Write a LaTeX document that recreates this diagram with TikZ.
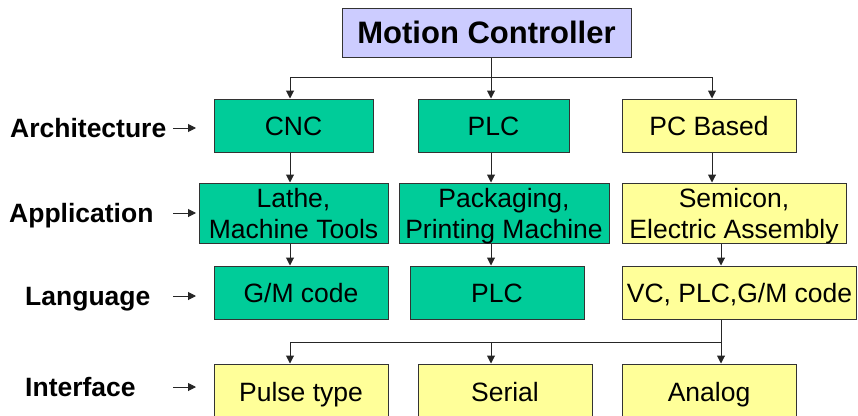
\documentclass[tikz,border=0pt]{standalone}
\usepackage{fontspec}
\setmainfont{Liberation Sans}
\usetikzlibrary{positioning, arrows.meta}
\definecolor{boxgreen}{RGB}{0,204,153}
\definecolor{boxyellow}{RGB}{255,255,153}
\definecolor{boxblue}{RGB}{204,204,255}
\tikzset{
>={Triangle[length=8pt, width=8pt]}, % plain filled arrow heads
every node/.style={font=\fontsize{26.5}{31}\selectfont, inner sep=0pt}, % Arial-like text everywhere
block/.style={draw=black!80, line width=1pt, align=center, minimum width=174pt, minimum height=53pt,
              text height=19pt, text depth=0pt}, % one box of the chart
two lines/.style={minimum height=60pt, text height=50pt}, % boxes with two lines of text
green block/.style={block, fill=boxgreen},
yellow block/.style={block, fill=boxyellow},
level/.style={font=\fontsize{26.5}{31}\selectfont\bfseries, anchor=west, text height=19pt, text depth=0pt}, % row names on the left
link/.style={->, line width=1pt, black!85}, % connectors
}

\begin{document}
\begin{tikzpicture}[x=1pt, y=-1pt]
    \useasboundingbox (0,0) rectangle (858,415);
    % top
    \node[block, fill=boxblue, minimum width=289pt, minimum height=49pt, text height=22pt,
          font=\fontsize{31}{36}\selectfont\bfseries] (mc) at (486.5,32.5) {Motion Controller};
    % architecture
    \node[green block, minimum width=159pt] (cnc) at (293.5,125.5) {CNC};
    \node[green block, minimum width=151pt] (plc) at (493.5,125.5) {PLC};
    \node[yellow block] (pc) at (709,125.5) {PC Based};
    % application
    \node[green block, two lines, minimum width=189pt] (lathe) at (293.5,213) {Lathe,\\Machine Tools};
    \node[green block, two lines, minimum width=210pt] (pack) at (504,213) {Packaging,\\Printing Machine};
    \node[yellow block, two lines, minimum width=224pt] (semi) at (734,213) {Semicon,\\Electric Assembly};
    % language
    \node[green block] (gm) at (301,292.5) {G/M code};
    \node[green block] (plcode) at (497,292.5) {PLC};
    \node[yellow block, minimum width=234pt] (vc) at (739.5,292.5) {VC, PLC,G/M code};
    % interface
    \node[yellow block, minimum height=56pt] (pulse) at (301,392) {Pulse type};
    \node[yellow block, minimum height=56pt] (serial) at (505,392) {Serial};
    \node[yellow block, minimum height=56pt] (analog) at (709,392) {Analog};
    % row names
    \node[level] (arch) at (10,128) {Architecture};
    \node[level] (appl) at (9,213) {Application};
    \node[level] (lang) at (25,296) {Language};
    \node[level] (intf) at (25,387) {Interface};
    % helper coordinates
    \coordinate (tailx) at (173,0);
    \coordinate (tipx) at (196,0);
    \coordinate (ca) at (290,0);
    \coordinate (cb) at (491,0);
    \coordinate (cc) at (712,0);
    \coordinate (cd) at (721,0);
    \coordinate (bus1) at (0,77);
    \coordinate (bus2) at (0,342);
    % row arrows
    \foreach \r in {arch, appl, lang, intf}
        \draw[link] (\r.east -| tailx) -- (\r.east -| tipx);
    % motion controller to architectures
    \draw[line width=1pt, black!85] (mc.south -| cb) -- (bus1 -| cb);
    \draw[line width=1pt, black!85] (bus1 -| ca) -- (bus1 -| cc);
    \foreach \n/\c in {cnc/ca, plc/cb, pc/cc}
        \draw[link] (bus1 -| \c) -- (\n.north -| \c);
    % down the columns
    \draw[link] (cnc.south -| ca) -- (lathe.north -| ca);
    \draw[link] (plc.south -| cb) -- (pack.north -| cb);
    \draw[link] (pc.south -| cc) -- (semi.north -| cc);
    \draw[link] (lathe.south -| ca) -- (gm.north -| ca);
    \draw[link] (pack.south -| cb) -- (plcode.north -| cb);
    \draw[link] (semi.south -| cd) -- (vc.north -| cd);
    % interfaces
    \draw[line width=1pt, black!85] (vc.south -| cd) -- (bus2 -| cd);
    \draw[line width=1pt, black!85] (bus2 -| ca) -- (bus2 -| cd);
    \foreach \n/\c in {pulse/ca, serial/cb, analog/cd}
        \draw[link] (bus2 -| \c) -- (\n.north -| \c);
\end{tikzpicture}
\end{document}
